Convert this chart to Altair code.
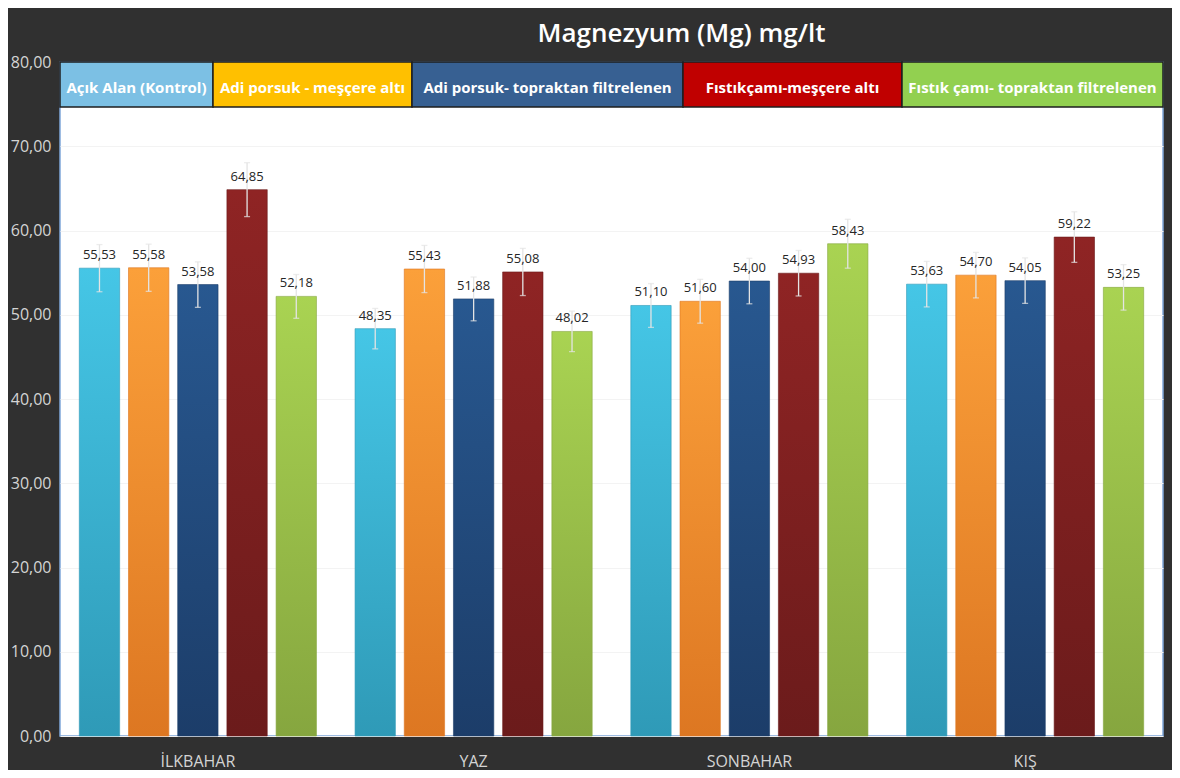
import altair as alt
import pandas as pd

seasons = ["İLKBAHAR", "YAZ", "SONBAHAR", "KIŞ"]
series = [
    "Açık Alan (Kontrol)",
    "Adi porsuk - meşçere altı",
    "Adi porsuk- topraktan filtrelenen",
    "Fıstıkçamı-meşçere altı",
    "Fıstık çamı- topraktan filtrelenen",
]
values = {
    "Açık Alan (Kontrol)": [55.53, 48.35, 51.10, 53.63],
    "Adi porsuk - meşçere altı": [55.58, 55.43, 51.60, 54.70],
    "Adi porsuk- topraktan filtrelenen": [53.58, 51.88, 54.00, 54.05],
    "Fıstıkçamı-meşçere altı": [64.85, 55.08, 54.93, 59.22],
    "Fıstık çamı- topraktan filtrelenen": [52.18, 48.02, 58.43, 53.25],
}
errors = {
    "Açık Alan (Kontrol)": [2.8, 2.4, 2.6, 2.7],
    "Adi porsuk - meşçere altı": [2.8, 2.8, 2.6, 2.7],
    "Adi porsuk- topraktan filtrelenen": [2.7, 2.6, 2.7, 2.7],
    "Fıstıkçamı-meşçere altı": [3.2, 2.8, 2.7, 3.0],
    "Fıstık çamı- topraktan filtrelenen": [2.6, 2.4, 2.9, 2.7],
}

# styling
bar_grad = {
    "Açık Alan (Kontrol)": ("#45c6e6", "#2f9ab7"),
    "Adi porsuk - meşçere altı": ("#fba03a", "#dd7722"),
    "Adi porsuk- topraktan filtrelenen": ("#285890", "#1c3d69"),
    "Fıstıkçamı-meşçere altı": ("#8f2424", "#6b1b1b"),
    "Fıstık çamı- topraktan filtrelenen": ("#a9d352", "#86a63f"),
}
legend_fill = ["#7cc0e4", "#ffc000", "#376092", "#c00000", "#92d050"]
legend_edges = [0, 153, 352, 623, 842, 1103]  # pixel layout of legend band

W, H = 1103, 674

rows = []
for s in series:
    for i, season in enumerate(seasons):
        v = values[s][i]
        e = errors[s][i]
        rows.append({"season": season, "series": s, "value": v,
                     "lo": v - e, "hi": v + e})
df = pd.DataFrame(rows)

leg = pd.DataFrame({
    "series": series,
    "x0": legend_edges[:-1],
    "x1": legend_edges[1:],
})
leg["xm"] = (leg["x0"] + leg["x1"]) / 2

xenc = alt.X("season:N", sort=seasons,
             scale=alt.Scale(domain=seasons, paddingInner=0.14, paddingOuter=0.07),
             axis=alt.Axis(title=None, labelAngle=0, labelFontSize=16, labelColor="#d4d4d4",
                           labelFont="Open Sans", labelPadding=17, ticks=False, domain=False))
xoff = alt.XOffset("series:N", sort=series,
                   scale=alt.Scale(domain=series, paddingInner=0.18, paddingOuter=0))
yenc = alt.Y("value:Q", scale=alt.Scale(domain=[0, 80], nice=False),
             axis=alt.Axis(title=None, values=list(range(0, 81, 10)),
                           labelExpr="replace(format(datum.value, '.2f'), '.', ',')",
                           labelFontSize=16, labelColor="#d4d4d4", labelFont="Open Sans",
                           labelPadding=9, ticks=False, domain=False,
                           grid=True, gridColor="#f3f3f3", gridWidth=1))

base = alt.Chart(df)

layers = []
for s in series:
    top, bot = bar_grad[s]
    grad = alt.LinearGradient(gradient="linear", x1=0, x2=0, y1=0, y2=1,
                              stops=[alt.GradientStop(color=top, offset=0),
                                     alt.GradientStop(color=bot, offset=1)])
    layers.append(
        base.transform_filter(alt.datum.series == s)
        .mark_bar(color=grad, stroke=bot, strokeWidth=1, strokeOpacity=0.6)
        .encode(x=xenc, xOffset=xoff, y=yenc)
    )

err_rule = base.mark_rule(color="#e4e4e4", strokeWidth=1.3).encode(
    x=xenc, xOffset=xoff, y="lo:Q", y2="hi:Q")
err_top = base.mark_tick(color="#e4e4e4", thickness=1.3, size=6).encode(
    x=xenc, xOffset=xoff, y="hi:Q")
err_bot = base.mark_tick(color="#e4e4e4", thickness=1.3, size=6).encode(
    x=xenc, xOffset=xoff, y="lo:Q")

labels = base.transform_calculate(
    lab="replace(format(datum.value, '.2f'), '.', ',')"
).mark_text(dy=-6, baseline="bottom", fontSize=13, font="Open Sans", color="#262626").encode(
    x=xenc, xOffset=xoff, y="value:Q", text="lab:N")

legx = alt.Scale(domain=[0, W], nice=False, zero=False)
leg_box = alt.Chart(leg).mark_rect(stroke="#1e1e1e", strokeWidth=1.5).encode(
    x=alt.X("x0:Q", scale=legx, axis=None),
    x2="x1:Q",
    y=alt.value(0), y2=alt.value(45),
    color=alt.Color("series:N", sort=series,
                    scale=alt.Scale(domain=series, range=legend_fill), legend=None),
)
leg_text = alt.Chart(leg).mark_text(color="white", fontWeight="bold", fontSize=15,
                                    font="Open Sans", baseline="middle").encode(
    x=alt.X("xm:Q", scale=legx, axis=None),
    y=alt.value(26),
    text="series:N",
)

bars = alt.layer(*layers, err_rule, err_top, err_bot, labels)
legend_layer = alt.layer(leg_box, leg_text)

chart = alt.layer(bars, legend_layer).resolve_scale(
    x="independent", color="independent"
).properties(
    width=W, height=H,
    title=alt.TitleParams("Magnezyum (Mg) mg/lt", color="white", fontSize=26,
                          font="Open Sans", fontWeight=600, anchor="middle",
                          dx=70, offset=7),
    background="#303030",
    padding={"left": 52, "top": 54, "right": 9, "bottom": 34},
    autosize=alt.AutoSizeParams(type="none"),
).configure_view(
    fill="white", stroke="#7fa7d9", strokeWidth=1.5
)

chart.save("out.html", embed_options={"renderer": "svg", "actions": False})
